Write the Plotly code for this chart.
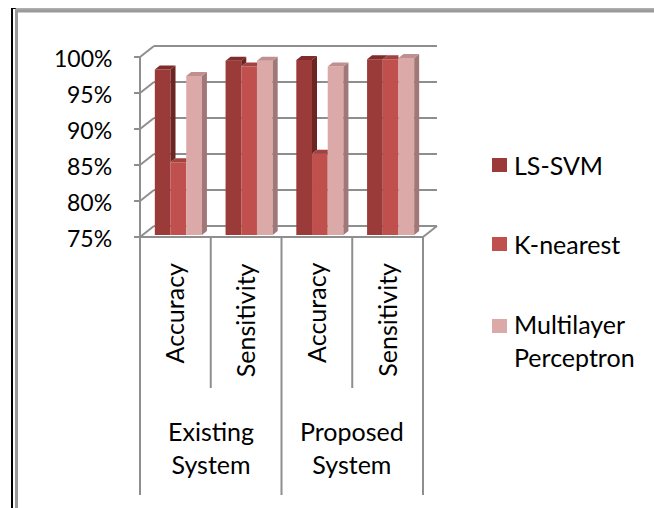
import plotly.graph_objects as go

# ---- data ----
groups = ["Existing System", "Proposed System"]
metrics = ["Accuracy", "Sensitivity"]
series_names = ["LS-SVM", "K-nearest", "Multilayer Perceptron"]
ls_svm = [0.980, 0.992, 0.993, 0.994]
k_nearest = [0.851, 0.984, 0.863, 0.994]
multilayer = [0.971, 0.992, 0.984, 0.996]
y_ticks = [0.75, 0.80, 0.85, 0.90, 0.95, 1.00]
y_tick_text = ["75%", "80%", "85%", "90%", "95%", "100%"]

series_values = [ls_svm, k_nearest, multilayer]
front_colors = ["#9B3B39", "#C0504D", "#DBA9A8"]
side_colors = ["#6B2523", "#8E3734", "#A07877"]
top_colors = ["#7F2C2A", "#A3423F", "#BF908F"]

# ---- page geometry (pixels) ----
W, H = 654, 508
PLOT_L, PLOT_R = 143, 426          # bar plane, left/right
FLOOR = 235                        # bar plane floor
PX_Y = 720.0                       # pixels per unit of value
Y_MIN, Y_MAX = 0.75, 1.02
N_CAT = len(groups) * len(metrics)
PX_X = (PLOT_R - PLOT_L) / N_CAT   # pixels per category
FRONT = (-3, 2)                    # front plane offset from bar plane
BACK = (11, -9)                    # back wall offset from bar plane
BAR_W = 0.222
DEPTH_X = 5 / PX_X                 # bar depth, data units
DEPTH_Y = 4 / PX_Y

FONT = "Lato, 'Open Sans', sans-serif"
FS = 25
FS_TICK = 23
WEIGHT = 400
GRID = "#8E8E8E"


def pxx(x):
    return x / W


def pxy(y):
    return 1 - y / H


def bar_px_x(xv):
    return PLOT_L + (xv + 0.5) * PX_X


def bar_px_y(v):
    return FLOOR - (v - Y_MIN) * PX_Y


def line(x0, y0, x1, y1, color=GRID, width=2, layer="below"):
    return dict(type="line", xref="paper", yref="paper",
                x0=pxx(x0), y0=pxy(y0), x1=pxx(x1), y1=pxy(y1),
                line=dict(color=color, width=width), layer=layer)


def txt_font(size=FS):
    return dict(family=FONT, size=size, color="#000000", weight=WEIGHT)


cat_x = list(range(N_CAT))
fig = go.Figure()

# front faces
for i, (name, vals) in enumerate(zip(series_names, series_values)):
    fig.add_trace(go.Bar(
        x=cat_x, y=vals, name=name, width=BAR_W,
        offset=-1.5 * BAR_W + i * BAR_W,
        marker=dict(color=front_colors[i], line=dict(width=0)),
        showlegend=False,
        hovertemplate=name + ": %{y:.1%}<extra></extra>",
    ))

# side and top faces, hidden where the next bar in the cluster covers them
for i, vals in enumerate(series_values):
    side_x, side_y, top_x, top_y = [], [], [], []
    for c, v in enumerate(vals):
        xl = c - 1.5 * BAR_W + i * BAR_W
        xr = xl + BAR_W
        nxt = series_values[i + 1][c] if i + 1 < len(series_values) else Y_MIN
        lo = max(Y_MIN, nxt)
        if v > lo:
            side_x += [xr, xr, xr + DEPTH_X, xr + DEPTH_X, xr, None]
            side_y += [lo, v, v + DEPTH_Y, lo + DEPTH_Y, lo, None]
        if nxt > v:
            top_x += [xl, xr, xr, xl + DEPTH_X, xl, None]
        else:
            top_x += [xl, xr, xr + DEPTH_X, xl + DEPTH_X, xl, None]
        top_y += [v, v, v + DEPTH_Y, v + DEPTH_Y, v, None]
    for xs, ys, col in ((side_x, side_y, side_colors[i]), (top_x, top_y, top_colors[i])):
        fig.add_trace(go.Scatter(
            x=xs, y=ys, mode="lines", fill="toself", fillcolor=col,
            line=dict(width=0, color=col), hoverinfo="skip", showlegend=False,
        ))

shapes = []
annotations = []

# chart frame
shapes.append(line(12, 8, 12, H, color="#000000", width=2, layer="above"))
shapes.append(line(11, 8.5, 16, 8.5, color="#000000", width=1, layer="above"))
shapes.append(line(15, 9, W, 9, color="#5E5E5E", width=1, layer="above"))
shapes.append(line(16, 11, W, 11, color="#9A9A9A", width=3, layer="above"))
shapes.append(line(16.5, 10, 16.5, H, color="#9A9A9A", width=3, layer="above"))

# value axis: front edge, ticks, side-wall diagonals, back-wall gridlines
fl = PLOT_L + FRONT[0]
fr = PLOT_R + FRONT[0]
bl = PLOT_L + BACK[0]
br = PLOT_R + BACK[0]
shapes.append(line(fl, bar_px_y(Y_MIN) + FRONT[1], fl, bar_px_y(y_ticks[-1]) + FRONT[1]))
for v, t in zip(y_ticks, y_tick_text):
    yf = bar_px_y(v) + FRONT[1]
    yb = bar_px_y(v) + BACK[1]
    shapes.append(line(fl - 6, yf, fl, yf))
    shapes.append(line(fl, yf, bl, yb))
    shapes.append(line(bl, yb, br, yb))
    annotations.append(dict(
        x=pxx(114), y=pxy(yf + 1), xref="paper", yref="paper",
        text=t, showarrow=False, xanchor="right", yanchor="middle",
        font=txt_font(FS_TICK),
    ))

# floor edges
y_floor_f = bar_px_y(Y_MIN) + FRONT[1]
y_floor_b = bar_px_y(Y_MIN) + BACK[1]
shapes.append(line(fl, y_floor_f, fr, y_floor_f))
shapes.append(line(fr, y_floor_f, br, y_floor_b))

# category axis: dividers and labels
inner_bottom, outer_bottom = 388, 495
for k in range(N_CAT + 1):
    xk = bar_px_x(k - 0.5) + FRONT[0]
    bottom = outer_bottom if k % len(metrics) == 0 else inner_bottom
    shapes.append(line(xk, y_floor_f, xk, bottom))
for g, grp in enumerate(groups):
    for m, met in enumerate(metrics):
        c = g * len(metrics) + m
        annotations.append(dict(
            x=pxx(bar_px_x(c) + FRONT[0] - 1), y=pxy(261), xref="paper", yref="paper",
            text=met, textangle=-90, showarrow=False,
            xanchor="center", yanchor="top",
            font=txt_font(),
        ))
    gx = (bar_px_x(g * len(metrics) - 0.5) + bar_px_x((g + 1) * len(metrics) - 0.5)) / 2 + FRONT[0]
    annotations.append(dict(
        x=pxx(gx), y=pxy(447), xref="paper", yref="paper",
        text=grp.replace(" ", "<br>"), showarrow=False,
        xanchor="center", yanchor="middle", align="center",
        font=txt_font(),
    ))

# legend
legend_rows = [165, 244, 340]
for i, name in enumerate(series_names):
    ly = legend_rows[i]
    first_line = ly if " " not in name else ly - 14
    shapes.append(dict(
        type="rect", xref="paper", yref="paper",
        x0=pxx(492), x1=pxx(507), y0=pxy(first_line - 7), y1=pxy(first_line + 7),
        fillcolor=front_colors[i], line=dict(width=0), layer="above",
    ))
    annotations.append(dict(
        x=pxx(512), y=pxy(ly), xref="paper", yref="paper",
        text=name.replace(" ", "<br>"), showarrow=False,
        xanchor="left", yanchor="middle", align="left",
        font=txt_font(),
    ))

fig.update_layout(
    width=W, height=H,
    margin=dict(l=0, r=0, t=0, b=0),
    paper_bgcolor="#FFFFFF", plot_bgcolor="rgba(0,0,0,0)",
    barmode="overlay",
    showlegend=False,
    xaxis=dict(range=[-0.5, N_CAT - 0.5], domain=[pxx(PLOT_L), pxx(PLOT_R)],
               visible=False, fixedrange=True),
    yaxis=dict(range=[Y_MIN, Y_MAX],
               domain=[pxy(bar_px_y(Y_MIN)), pxy(bar_px_y(Y_MAX))],
               visible=False, fixedrange=True),
    shapes=shapes,
    annotations=annotations,
)

fig.write_html("out.html")
